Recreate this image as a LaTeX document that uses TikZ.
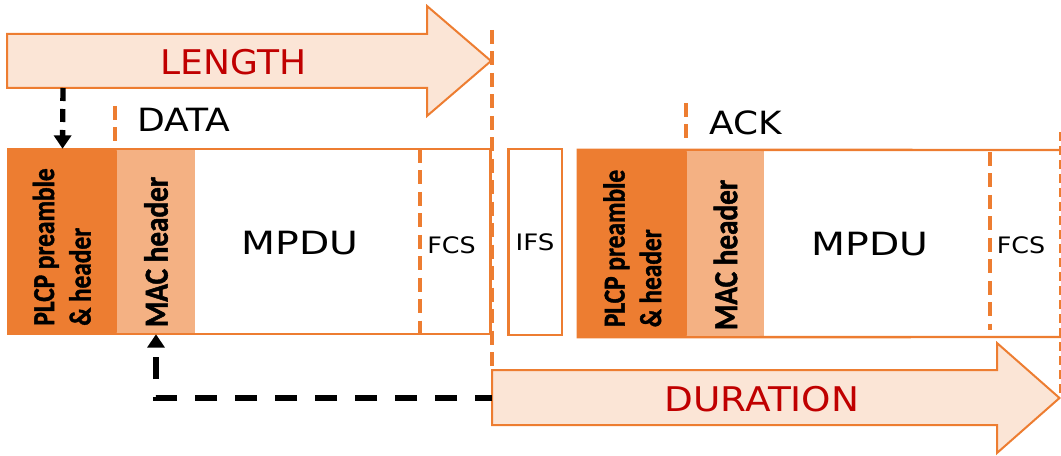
\documentclass[tikz,border=0pt]{standalone}
\usepackage{fontspec}
\setmainfont{DejaVu Sans}
\newfontfamily\lblfont[BoldFeatures={FakeBold=1.5}]{Carlito}
\usepackage{graphicx}
\usetikzlibrary{arrows.meta}
\definecolor{dorange}{HTML}{ED7D31}
\definecolor{lorange}{HTML}{F4B183}
\definecolor{afill}{HTML}{FBE5D6}
\definecolor{dred}{HTML}{C00000}
\newcommand{\sx}[2]{\scalebox{#1}[1]{#2}}
\newcommand{\sy}[2]{\scalebox{1}[#1]{#2}}
\tikzset{
  plcpbox/.style={fill=dorange, rounded corners=1.5pt, inner sep=0, minimum width=81.75pt},
  macbox/.style={fill=lorange, inner sep=0, minimum width=58.5pt},
  framebox/.style={draw=dorange, line width=1.75pt, inner sep=0},
  framepath/.style={draw=dorange, line width=1.75pt},
  odash/.style={draw=dorange, line width=3pt, dash pattern=on 10.5pt off 5.6pt},
  thindash/.style={draw=dorange, line width=1.1pt, dash pattern=on 6.5pt off 4pt},
  bdash/.style={draw=black, line width=4pt, -{Triangle[length=10pt,width=12.75pt]}},
  bigarrow/.style={draw=dorange, fill=afill, line width=1.5pt, line join=miter},
  bigtxt/.style={inner sep=0, text=dred, font=\fontsize{25.5}{30}\selectfont},
  hdtxt/.style={inner sep=0, font=\fontsize{24}{28}\selectfont},
  smalltxt/.style={inner sep=0, font=\fontsize{17}{20}\selectfont},
  rottxt/.style={inner sep=0, rotate=90, font=\lblfont\bfseries\fontsize{19}{22.8}\selectfont},
  mactxt/.style={inner sep=0, rotate=90, font=\lblfont\bfseries\fontsize{21.9}{26}\selectfont},
}
\begin{document}
\begin{tikzpicture}[x=0.75pt,y=-0.75pt]
\useasboundingbox (0,0) rectangle (1061,456);
% big arrows
\draw[bigarrow] (7,34) -- (427,34) -- (427,6) -- (491,61) -- (427,116) -- (427,88) -- (7,88) -- cycle;
\node[bigtxt] (lenlbl) at (233.5,62) {\sx{1.06}{LENGTH}};
\draw[bigarrow] (492,370) -- (997,370) -- (997,343) -- (1059.5,398) -- (997,453) -- (997,425) -- (492,425) -- cycle;
\node[bigtxt] (durlbl) at (762,399) {\sx{1.1}{DURATION}};
% DATA frame
\node[plcpbox, minimum height=138.75pt] (plcp1) at (62.5,241.5) {};
\node[macbox, minimum height=138.75pt] (mac1) at (156,241.5) {};
\node[framebox, minimum width=361.5pt, minimum height=138.75pt] (frame1) at (249.5,241.5) {};
\draw[odash] (420,149) -- (420,334);
\node[rottxt] (plcp1txt) at (65,247) {\sy{1.2}{\begin{tabular}{@{}l@{}}PLCP preamble\\\& header\end{tabular}}};
\node[mactxt] (mac1txt) at (156,252) {\sy{1.15}{MAC header}};
\node[hdtxt] (mpdu1) at (300,243) {\sx{1.23}{MPDU}};
\node[smalltxt] (fcs1) at (451.5,245) {\sx{1.12}{FCS}};
\node[hdtxt] (datalbl) at (184,120) {\sx{1.13}{DATA}};
\draw[odash] (115,106) -- (115,143);
% IFS
\node[framebox, minimum width=40pt, minimum height=139.5pt, font=\fontsize{17}{20}\selectfont] (ifs) at (535,242) {\sx{1.15}{IFS}};
% ACK frame
\node[plcpbox, minimum height=140.25pt] (plcp2) at (632.5,243.5) {};
\node[macbox, minimum width=57.75pt, minimum height=140.25pt] (mac2) at (725.5,243.5) {};
\coordinate (ackrt) at (1061,150);
\coordinate (ackrb) at (1061,337);
\draw[framepath] (ackrt) -- (plcp2.north west) -- (plcp2.south west) -- (ackrb);
\draw[odash] (990,152) -- (990,330);
\node[rottxt] (plcp2txt) at (635.5,248.5) {\sy{1.2}{\begin{tabular}{@{}l@{}}PLCP preamble\\\& header\end{tabular}}};
\node[mactxt] (mac2txt) at (725.5,255) {\sy{1.15}{MAC header}};
\node[hdtxt] (mpdu2) at (870,244) {\sx{1.23}{MPDU}};
\node[smalltxt] (fcs2) at (1021,245) {\sx{1.12}{FCS}};
\node[hdtxt] (acklbl) at (746,123) {\sx{1.12}{ACK}};
\draw[odash] (686,103) -- (686,142);
% long dashed separators
\draw[odash] (492,30) -- (492,370);
\draw[thindash] (1060,132) -- (1060,395);
% connectors
\coordinate (lenbot) at (63,88);
\draw[bdash, dash pattern=on 9.75pt off 6pt] (lenbot) -- (plcp1.north);
\coordinate (durleft) at (492,398);
\draw[bdash, dash pattern=on 16.5pt off 13.5pt, dash phase=3.75pt] (durleft) -- (durleft -| mac1.south) -- (mac1.south);
\end{tikzpicture}
\end{document}
